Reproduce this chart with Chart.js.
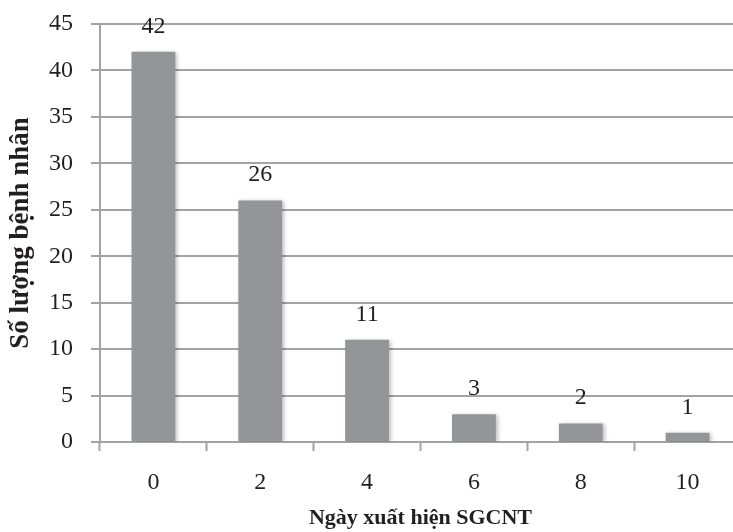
<!DOCTYPE html>
<html>
<head>
<meta charset="utf-8">
<script src="https://cdn.jsdelivr.net/npm/chart.js@4.4.1/dist/chart.umd.min.js"></script>
<style>
  html, body { margin: 0; padding: 0; background: #fff; overflow: hidden; }
  #wrap { position: relative; width: 741px; height: 532px; }
</style>
</head>
<body>
<div id="wrap"><canvas id="chart"></canvas></div>
<script>
// categories and counts
const days = ['0', '2', '4', '6', '8', '10'];
const patients = [42, 26, 11, 3, 2, 1];

const barColor = '#939598';
const gridColor = '#a3a3a3';
const textColor = '#231f20';

Chart.defaults.font.family = '"Liberation Serif", "DejaVu Serif", serif';
Chart.defaults.color = textColor;

// soft drop shadow under the bars
const barShadow = {
    id: 'barShadow',
    beforeDatasetsDraw(chart) {
        const ctx = chart.ctx;
        ctx.save();
        ctx.shadowColor = 'rgba(0, 0, 0, 0.25)';
        ctx.shadowBlur = 4;
        ctx.shadowOffsetX = 2;
        ctx.shadowOffsetY = 1;
    },
    afterDatasetsDraw(chart) {
        chart.ctx.restore();
    }
};

// value written above each bar
const valueLabels = {
    id: 'valueLabels',
    afterDatasetsDraw(chart) {
        const ctx = chart.ctx;
        const meta = chart.getDatasetMeta(0);
        ctx.save();
        ctx.font = '24px "Liberation Serif", serif';
        ctx.fillStyle = textColor;
        ctx.textAlign = 'center';
        ctx.textBaseline = 'alphabetic';
        meta.data.forEach((bar, i) => {
            ctx.fillText(String(patients[i]), bar.x, bar.y - 19);
        });
        ctx.restore();
    }
};

new Chart(document.getElementById('chart'), {
    type: 'bar',
    data: {
        labels: days,
        datasets: [{
            data: patients,
            backgroundColor: barColor,
            borderWidth: 0,
            categoryPercentage: 0.41,
            barPercentage: 1.0
        }]
    },
    options: {
        responsive: true,
        maintainAspectRatio: false,
        animation: false,
        layout: { padding: { top: 24, right: 0, left: 0, bottom: 0 } },
        plugins: {
            legend: { display: false },
            tooltip: { enabled: false }
        },
        scales: {
            x: {
                offset: true,
                grid: {
                    offset: true,
                    drawOnChartArea: false,
                    drawTicks: true,
                    tickLength: 9,
                    tickWidth: 2,
                    tickColor: gridColor
                },
                border: { display: false },
                ticks: { font: { size: 24 }, padding: 17, color: textColor },
                title: {
                    display: true,
                    text: 'Ngày xuất hiện SGCNT',
                    font: { size: 22, weight: 'bold' },
                    color: textColor,
                    padding: { top: 0, bottom: 0 }
                },
                afterFit(scale) {
                    scale.height = 90;
                    scale.paddingLeft = 0;
                    scale.paddingRight = 0;
                }
            },
            y: {
                min: 0,
                max: 45,
                ticks: { stepSize: 5, font: { size: 24 }, padding: 18, color: textColor },
                grid: {
                    color: gridColor,
                    lineWidth: 2,
                    tickLength: 9
                },
                border: { display: true, color: gridColor, width: 2 },
                title: {
                    display: true,
                    text: 'Số lượng bệnh nhân',
                    font: { size: 27, weight: 'bold' },
                    color: textColor,
                    padding: { top: 5, bottom: 0 }
                },
                afterFit(scale) {
                    scale.width = 100;
                    scale.paddingTop = 0;
                    scale.paddingBottom = 0;
                }
            }
        }
    },
    plugins: [barShadow, valueLabels]
});
</script>
</body>
</html>
